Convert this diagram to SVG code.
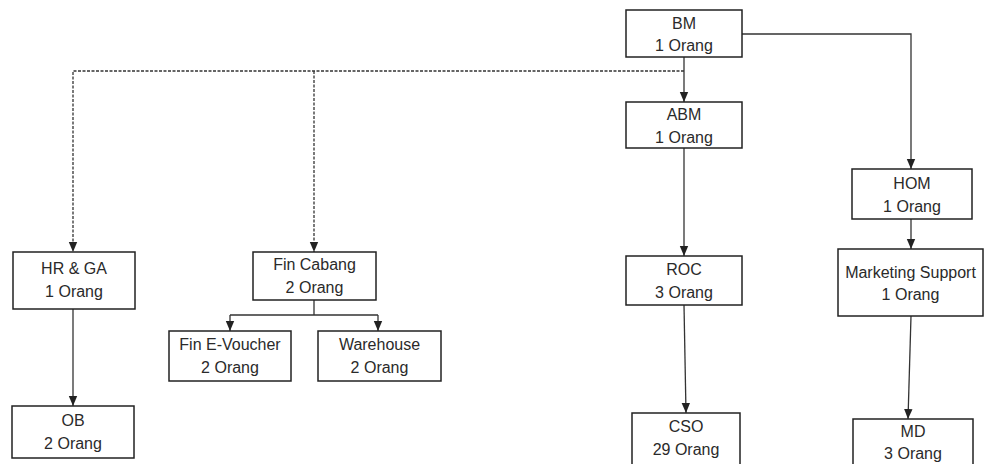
<svg xmlns="http://www.w3.org/2000/svg" width="988" height="464" viewBox="0 0 988 464">
<style>
.box{fill:#fff;stroke:#222;stroke-width:1.5}
.t{font-family:"Liberation Sans",Arial,sans-serif;font-size:16px;fill:#2a2a2a;text-anchor:middle}
.ln{fill:none;stroke:#333;stroke-width:1.3}
.dash{fill:none;stroke:#333;stroke-width:1.3;stroke-dasharray:3 1.5}
</style>
<defs>
<marker id="ah" markerUnits="userSpaceOnUse" markerWidth="10" markerHeight="10" viewBox="0 0 10 10" refX="10" refY="5" orient="auto">
<path d="M0,0.8 L10,5 L0,9.2 z" fill="#222"/>
</marker>
</defs>
<rect width="988" height="464" fill="#fff"/>
<g id="connectors">
<path class="ln" d="M684,57 V102" marker-end="url(#ah)"/>
<path class="ln" d="M742,34 H911 V169" marker-end="url(#ah)"/>
<path class="dash" d="M684,71 H73 V252" marker-end="url(#ah)"/>
<path class="dash" d="M314,71 V252" marker-end="url(#ah)"/>
<path class="ln" d="M73,309 V406" marker-end="url(#ah)"/>
<path class="ln" d="M314,300 V315 M230,315 H378"/>
<path class="ln" d="M230,315 V331" marker-end="url(#ah)"/>
<path class="ln" d="M378,315 V331" marker-end="url(#ah)"/>
<path class="ln" d="M684,148 V256" marker-end="url(#ah)"/>
<path class="ln" d="M684,305 L686,413" marker-end="url(#ah)"/>
<path class="ln" d="M911,219 V249" marker-end="url(#ah)"/>
<path class="ln" d="M911,316 L908,419" marker-end="url(#ah)"/>
</g>
<g id="bm"><rect class="box" x="626" y="10" width="116" height="47"/><text class="t" x="684" y="28.5">BM</text><text class="t" x="684" y="51">1 Orang</text></g>
<g id="abm"><rect class="box" x="626" y="102" width="116" height="46"/><text class="t" x="684" y="120">ABM</text><text class="t" x="684" y="142.5">1 Orang</text></g>
<g id="hom"><rect class="box" x="852" y="169" width="120" height="50"/><text class="t" x="912" y="188.5">HOM</text><text class="t" x="912" y="211.5">1 Orang</text></g>
<g id="hrga"><rect class="box" x="13" y="252" width="122" height="57"/><text class="t" x="74" y="274">HR &amp; GA</text><text class="t" x="74" y="297">1 Orang</text></g>
<g id="fincabang"><rect class="box" x="253" y="252" width="123" height="48"/><text class="t" x="314.5" y="270">Fin Cabang</text><text class="t" x="314.5" y="293">2 Orang</text></g>
<g id="finevoucher"><rect class="box" x="169" y="331" width="122" height="50"/><text class="t" x="230" y="350">Fin E-Voucher</text><text class="t" x="230" y="373">2 Orang</text></g>
<g id="warehouse"><rect class="box" x="318" y="331" width="123" height="50"/><text class="t" x="379.5" y="350">Warehouse</text><text class="t" x="379.5" y="373">2 Orang</text></g>
<g id="ob"><rect class="box" x="12" y="406" width="122" height="52"/><text class="t" x="73" y="426">OB</text><text class="t" x="73" y="449">2 Orang</text></g>
<g id="roc"><rect class="box" x="626" y="256" width="116" height="49"/><text class="t" x="684" y="275">ROC</text><text class="t" x="684" y="298">3 Orang</text></g>
<g id="cso"><rect class="box" x="632" y="413" width="108" height="56"/><text class="t" x="686" y="432">CSO</text><text class="t" x="686" y="455">29 Orang</text></g>
<g id="ms"><rect class="box" x="838" y="249" width="145" height="67"/><text class="t" x="910.5" y="277.5">Marketing Support</text><text class="t" x="910.5" y="300">1 Orang</text></g>
<g id="md"><rect class="box" x="853" y="419" width="120" height="50"/><text class="t" x="913" y="437">MD</text><text class="t" x="913" y="459">3 Orang</text></g>
</svg>
